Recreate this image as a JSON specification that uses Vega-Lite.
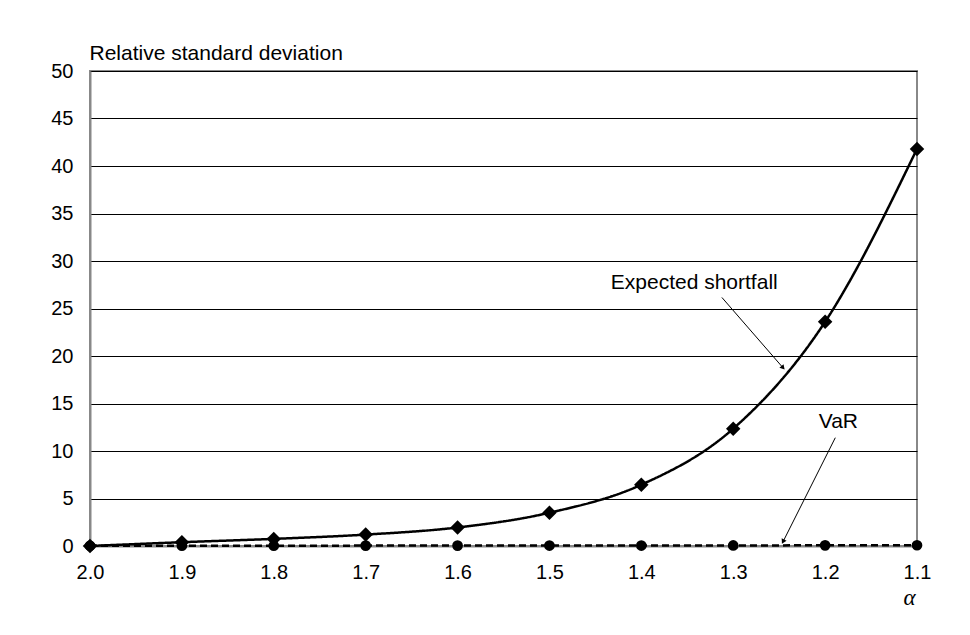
{
  "$schema": "https://vega.github.io/schema/vega-lite/v6.json",
  "width": 827,
  "height": 475,
  "autosize": {"type": "none"},
  "padding": {"left": 90, "top": 71, "right": 53, "bottom": 89},
  "background": "white",
  "config": {
    "font": "Liberation Sans",
    "view": {"stroke": "#888888", "strokeWidth": 2},
    "axis": {
      "labelFont": "Liberation Sans",
      "labelFontSize": 20,
      "labelColor": "#000000",
      "titleFont": "Liberation Sans",
      "titleFontSize": 21,
      "titleFontWeight": "normal",
      "titleColor": "#000000",
      "tickSize": 0,
      "domainColor": "#888888",
      "domainWidth": 2
    },
    "text": {"font": "Liberation Sans", "fontSize": 21, "color": "#000000"}
  },
  "datasets": {
    "series": [
      {"alpha": 2.0, "value": 0.0, "series": "Expected shortfall"},
      {"alpha": 1.9, "value": 0.4, "series": "Expected shortfall"},
      {"alpha": 1.8, "value": 0.75, "series": "Expected shortfall"},
      {"alpha": 1.7, "value": 1.2, "series": "Expected shortfall"},
      {"alpha": 1.6, "value": 1.95, "series": "Expected shortfall"},
      {"alpha": 1.5, "value": 3.5, "series": "Expected shortfall"},
      {"alpha": 1.4, "value": 6.45, "series": "Expected shortfall"},
      {"alpha": 1.3, "value": 12.35, "series": "Expected shortfall"},
      {"alpha": 1.2, "value": 23.6, "series": "Expected shortfall"},
      {"alpha": 1.1, "value": 41.8, "series": "Expected shortfall"},
      {"alpha": 2.0, "value": 0.02, "series": "VaR"},
      {"alpha": 1.9, "value": 0.03, "series": "VaR"},
      {"alpha": 1.8, "value": 0.03, "series": "VaR"},
      {"alpha": 1.7, "value": 0.04, "series": "VaR"},
      {"alpha": 1.6, "value": 0.04, "series": "VaR"},
      {"alpha": 1.5, "value": 0.05, "series": "VaR"},
      {"alpha": 1.4, "value": 0.05, "series": "VaR"},
      {"alpha": 1.3, "value": 0.06, "series": "VaR"},
      {"alpha": 1.2, "value": 0.07, "series": "VaR"},
      {"alpha": 1.1, "value": 0.08, "series": "VaR"}
    ],
    "labels": [
      {"alpha": 1.3424, "value": 27.67, "label": "Expected shortfall"},
      {"alpha": 1.1856, "value": 13.1, "label": "VaR"}
    ],
    "arrows": [
      {"alpha": 1.3123, "value": 26.16, "alpha2": 1.2458, "value2": 18.76, "angle": 139},
      {"alpha": 1.1889, "value": 11.4, "alpha2": 1.2458, "value2": 0.45, "angle": 207}
    ]
  },
  "layer": [
    {
      "data": {"name": "series"},
      "mark": {"type": "line", "strokeWidth": 2.5, "color": "#000000", "interpolate": "monotone"},
      "encoding": {
        "x": {
          "field": "alpha",
          "type": "quantitative",
          "scale": {"domain": [1.1, 2.0], "reverse": true, "nice": false, "zero": false},
          "axis": {
            "values": [2.0, 1.9, 1.8, 1.7, 1.6, 1.5, 1.4, 1.3, 1.2, 1.1],
            "format": ".1f",
            "grid": false,
            "labelFlush": false,
            "labelPadding": 16,
            "title": "α",
            "titleFont": "Liberation Serif",
            "titleFontStyle": "italic",
            "titleFontSize": 23,
            "titleAlign": "center",
            "titleBaseline": "middle",
            "titleX": 819,
            "titleY": 51
          }
        },
        "y": {
          "field": "value",
          "type": "quantitative",
          "scale": {"domain": [0, 50], "nice": false},
          "axis": {
            "values": [0, 5, 10, 15, 20, 25, 30, 35, 40, 45, 50],
            "grid": true,
            "gridColor": "#000000",
            "gridWidth": 1,
            "labelPadding": 17,
            "title": "Relative standard deviation",
            "titleAngle": 0,
            "titleAlign": "left",
            "titleBaseline": "alphabetic",
            "titleX": -1,
            "titleY": -12
          }
        },
        "detail": {"field": "series"},
        "strokeDash": {
          "field": "series",
          "type": "nominal",
          "scale": {"domain": ["Expected shortfall", "VaR"], "range": [[1, 0], [7, 4]]},
          "legend": null
        }
      }
    },
    {
      "data": {"name": "series"},
      "mark": {"type": "point", "filled": true, "opacity": 1, "color": "#000000"},
      "encoding": {
        "x": {"field": "alpha", "type": "quantitative"},
        "y": {"field": "value", "type": "quantitative"},
        "shape": {
          "field": "series",
          "type": "nominal",
          "scale": {"domain": ["Expected shortfall", "VaR"], "range": ["diamond", "circle"]},
          "legend": null
        },
        "size": {
          "field": "series",
          "type": "nominal",
          "scale": {"domain": ["Expected shortfall", "VaR"], "range": [210, 115]},
          "legend": null
        }
      }
    },
    {
      "data": {"name": "labels"},
      "mark": {"type": "text", "align": "center", "baseline": "middle"},
      "encoding": {
        "x": {"field": "alpha", "type": "quantitative"},
        "y": {"field": "value", "type": "quantitative"},
        "text": {"field": "label"}
      }
    },
    {
      "data": {"name": "arrows"},
      "mark": {"type": "rule", "color": "#000000", "strokeWidth": 1},
      "encoding": {
        "x": {"field": "alpha", "type": "quantitative"},
        "y": {"field": "value", "type": "quantitative"},
        "x2": {"field": "alpha2"},
        "y2": {"field": "value2"}
      }
    },
    {
      "data": {"name": "arrows"},
      "mark": {"type": "point", "shape": "triangle-up", "filled": true, "opacity": 1, "color": "#000000", "size": 30},
      "encoding": {
        "x": {"field": "alpha2", "type": "quantitative"},
        "y": {"field": "value2", "type": "quantitative"},
        "angle": {"field": "angle", "type": "quantitative", "scale": null}
      }
    }
  ]
}
